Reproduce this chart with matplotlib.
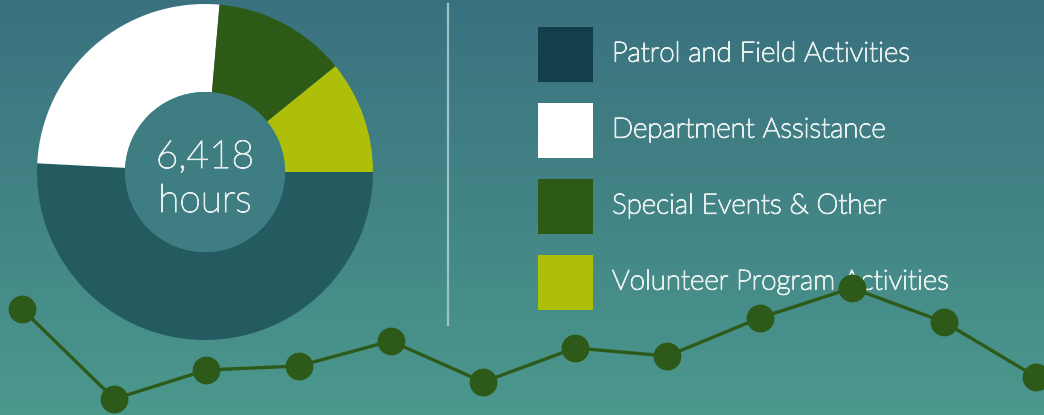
import numpy as np
import matplotlib.pyplot as plt
import matplotlib.patheffects as pe
from matplotlib.colors import LinearSegmentedColormap
from matplotlib.patches import Rectangle, Circle

# donut data (hours)
categories = ['Patrol and Field Activities', 'Department Assistance',
              'Special Events & Other', 'Volunteer Program Activities']
hours = [3262, 1640, 820, 696]
total_label = ['6,418', 'hours']

# trend line along the bottom (arbitrary units)
trend_x = list(range(12))
trend_vals = [106, 16, 45, 49, 74, 33, 67, 59, 97, 127, 93, 38]

wedge_colors = ['#235b61', '#ffffff', '#2e5a17', '#adbf08']
legend_colors = ['#133f4a', '#ffffff', '#2e5a17', '#adbf08']
text_col = '#e6eeee'
font = ['Lato', 'DejaVu Sans']

W, H = 1044, 415
fig = plt.figure(figsize=(W / 100, H / 100), dpi=100)

# gradient background
bg = fig.add_axes([0, 0, 1, 1])
cmap = LinearSegmentedColormap.from_list('bg', ['#3a717f', '#4b988d'])
grad = np.linspace(0, 1, 256).reshape(-1, 1)
bg.imshow(grad, aspect='auto', cmap=cmap, extent=[0, W, H, 0])
bg.set_xlim(0, W)
bg.set_ylim(H, 0)
bg.axis('off')

# divider
bg.plot([448, 448], [4, 325], color='#a9d2d4', lw=1.6, alpha=0.85)

# legend
for i, (lab, c) in enumerate(zip(categories, legend_colors)):
    y0 = 27 + i * 76
    bg.add_patch(Rectangle((538, y0), 55, 55, facecolor=c, edgecolor='none'))
    bg.text(612, y0 + 27, lab, color=text_col, fontsize=20, family=font,
            fontweight='light', va='center', ha='left',
            path_effects=[pe.withStroke(linewidth=0.9, foreground=text_col)])

# donut
cx, cy, r = 205, 172, 168
dax = fig.add_axes([(cx - r) / W, 1 - (cy + r) / H, 2 * r / W, 2 * r / H])
dax.pie(hours, colors=wedge_colors, startangle=0, counterclock=False,
        radius=1.0, wedgeprops=dict(width=1.0 - 80 / r, edgecolor='none'))
dax.add_patch(Circle((0, 0), 80 / r, facecolor='#3e7e82', edgecolor='none'))
dax.set_xlim(-1, 1)
dax.set_ylim(-1, 1)
dax.set_aspect('auto')
dax.axis('off')
for lab, yy in zip(total_label, [0.024, -0.238]):
    dax.text(0, yy, lab, color=text_col, fontsize=28, family=font,
             fontweight='light', ha='center', va='baseline',
             path_effects=[pe.withStroke(linewidth=0.8, foreground=text_col)])

# trend line on top
lax = fig.add_axes([0, 0, 1, 1])
lax.patch.set_alpha(0)
lax.plot(trend_x, trend_vals, color='#2d5a18', lw=2.4, marker='o',
         markersize=19, markerfacecolor='#2d5a18', markeredgecolor='#2d5a18')
lax.set_xlim(-22 / 92.2, (W - 22) / 92.2)
lax.set_ylim(0, H)
lax.axis('off')

fig.savefig('out.png', dpi=100)
